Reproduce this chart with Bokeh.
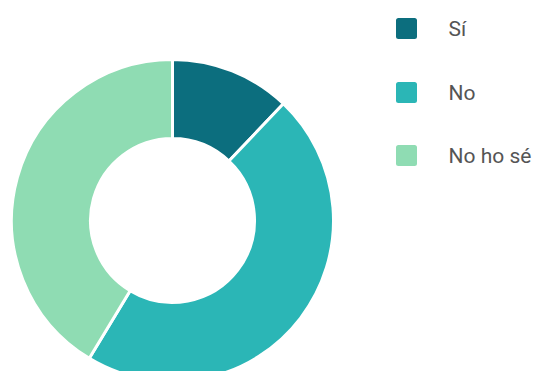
import math
from bokeh.plotting import figure
from bokeh.models import Range1d, ColumnDataSource
from bokeh.core.properties import value
from bokeh.embed import file_html
from bokeh.resources import INLINE

categories = ["Sí", "No", "No ho sé"]
values = [12.1, 46.6, 41.4]
colors = ["#0c6e7e", "#2bb6b6", "#8fdcb3"]

W, H = 540, 371
p = figure(width=W, height=H, output_backend="svg", toolbar_location=None,
           x_range=Range1d(0, W), y_range=Range1d(0, H), min_border=0)
p.axis.visible = False
p.grid.visible = False
p.outline_line_color = None

total = sum(values)
starts, ends = [], []
a = math.pi / 2
for v in values:
    starts.append(a)
    a -= v / total * 2 * math.pi
    ends.append(a)

src = ColumnDataSource(dict(start=starts, end=ends, color=colors, cat=categories))
p.annular_wedge(x=172, y=151, inner_radius=82, outer_radius=161,
                start_angle="start", end_angle="end", direction="clock",
                fill_color="color", line_color="white", line_width=3, source=src)

ly = [343, 279, 216]
lsrc = ColumnDataSource(dict(x=[406] * 3, y=ly, tx=[448] * 3, color=colors, cat=categories))
p.scatter(x="x", y="y", marker="square", size=16, fill_color="color", line_color="color",
          line_width=5, line_join="round", source=lsrc)
p.text(x="tx", y="y", text="cat", text_font=value("Roboto"), text_font_size="21px",
       text_color="#555555", text_baseline="middle", source=lsrc)

open("out.html", "w").write(file_html(p, INLINE))
